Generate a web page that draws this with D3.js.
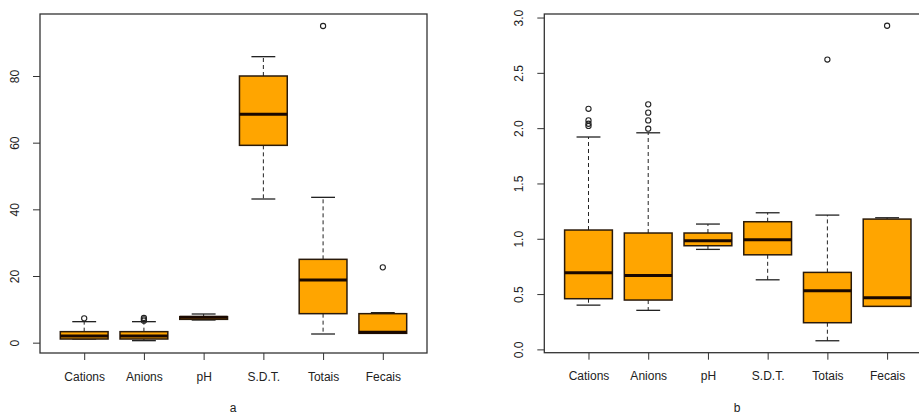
<!DOCTYPE html>
<html>
<head>
<meta charset="utf-8">
<script src="https://cdn.jsdelivr.net/npm/d3@7"></script>
<style>
  body { margin: 0; background: #fff; }
  svg text { font-family: "Liberation Sans", Arial, sans-serif; fill: #222; }
</style>
</head>
<body>
<svg id="chart" width="919" height="415"></svg>
<script>
var categories = ["Cations", "Anions", "pH", "S.D.T.", "Totais", "Fecais"];

// panel a
var aLow  = [1.1, 0.6, 6.8, 43.1, 2.6, 2.8];
var aQ1   = [1.1, 1.1, 7.0, 59.2, 8.7, 2.8];
var aMed  = [2.0, 2.0, 7.6, 68.5, 18.8, 3.1];
var aQ3   = [3.3, 3.3, 7.8, 80.0, 25.0, 8.7];
var aHigh = [6.3, 6.3, 8.6, 85.8, 43.6, 9.0];
var aOut  = [[7.3], [6.6, 7.0, 7.4], [], [], [95.0], [22.6]];
var aTicks = [0, 20, 40, 60, 80];

// panel b
var bLow  = [0.40, 0.353, 0.904, 0.629, 0.078, 0.389];
var bQ1   = [0.458, 0.446, 0.937, 0.855, 0.241, 0.389];
var bMed  = [0.693, 0.669, 0.982, 0.991, 0.53, 0.467];
var bQ3   = [1.079, 1.052, 1.052, 1.154, 0.696, 1.178];
var bHigh = [1.92, 1.958, 1.133, 1.235, 1.214, 1.19];
var bOut  = [[2.02, 2.04, 2.07, 2.175], [1.995, 2.07, 2.14, 2.215], [], [], [2.62], [2.926]];
var bTicks = [0, 0.5, 1, 1.5, 2, 2.5, 3];

var svg = d3.select("#chart");

function panel(opt){
  var g = svg.append("g");
  var x = d3.scalePoint().domain(categories).range([opt.left, opt.right]).padding(0.74);
  var y = d3.scaleLinear().domain(opt.domain).range([opt.bottom, opt.top]);
  var bw = x.step() * 0.8;

  var rows = categories.map(function(c, i){
    return {c: c, low: opt.low[i], q1: opt.q1[i], med: opt.med[i], q3: opt.q3[i], high: opt.high[i], out: opt.out[i]};
  });

  var b = g.selectAll(".bx").data(rows).enter().append("g");

  // whiskers
  b.append("line")
    .attr("x1", function(d){ return x(d.c); }).attr("x2", function(d){ return x(d.c); })
    .attr("y1", function(d){ return y(d.q3); }).attr("y2", function(d){ return y(d.high); })
    .attr("stroke", "#222").attr("stroke-dasharray", "4,3");
  b.append("line")
    .attr("x1", function(d){ return x(d.c); }).attr("x2", function(d){ return x(d.c); })
    .attr("y1", function(d){ return y(d.q1); }).attr("y2", function(d){ return y(d.low); })
    .attr("stroke", "#222").attr("stroke-dasharray", "4,3");
  // staples
  ["low", "high"].forEach(function(k){
    b.append("line")
      .attr("x1", function(d){ return x(d.c) - bw / 4; }).attr("x2", function(d){ return x(d.c) + bw / 4; })
      .attr("y1", function(d){ return y(d[k]); }).attr("y2", function(d){ return y(d[k]); })
      .attr("stroke", "#222").attr("stroke-width", 1.3);
  });
  // box
  b.append("rect")
    .attr("x", function(d){ return x(d.c) - bw / 2; })
    .attr("y", function(d){ return y(d.q3); })
    .attr("width", bw)
    .attr("height", function(d){ return Math.max(0, y(d.q1) - y(d.q3)); })
    .attr("fill", "#FFA500").attr("stroke", "#2a1a0a").attr("stroke-width", 1.5);
  // median
  b.append("line")
    .attr("x1", function(d){ return x(d.c) - bw / 2; }).attr("x2", function(d){ return x(d.c) + bw / 2; })
    .attr("y1", function(d){ return y(d.med); }).attr("y2", function(d){ return y(d.med); })
    .attr("stroke", "#1a0800").attr("stroke-width", 3);
  // outliers
  b.selectAll("circle")
    .data(function(d){ return d.out.map(function(v){ return {c: d.c, v: v}; }); })
    .enter().append("circle")
      .attr("cx", function(d){ return x(d.c); })
      .attr("cy", function(d){ return y(d.v); })
      .attr("r", 2.6)
      .attr("fill", "none").attr("stroke", "#222").attr("stroke-width", 1.1);

  // frame
  g.append("rect")
    .attr("x", opt.left).attr("y", opt.top)
    .attr("width", opt.right - opt.left).attr("height", opt.bottom - opt.top)
    .attr("fill", "none").attr("stroke", "#333").attr("stroke-width", 1.3);

  // y axis
  var ya = g.append("g")
    .attr("transform", "translate(" + opt.left + ",0)")
    .call(d3.axisLeft(y).tickValues(opt.ticks).tickSize(7).tickPadding(0)
      .tickFormat(opt.fmt));
  ya.select(".domain").remove();
  ya.selectAll("line").attr("stroke", "#333");
  ya.selectAll("text")
    .attr("x", 0).attr("dy", 0)
    .attr("transform", "translate(-21,0) rotate(-90)")
    .attr("text-anchor", "middle")
    .style("font-size", "12px").attr("fill", "#333");

  // x axis
  var xa = g.append("g")
    .attr("transform", "translate(0," + opt.bottom + ")")
    .call(d3.axisBottom(x).tickSize(7).tickPadding(12));
  xa.select(".domain").remove();
  xa.selectAll("line").attr("stroke", "#333");
  xa.selectAll("text").style("font-size", "12px").attr("fill", "#333");

  g.append("text")
    .attr("x", opt.labelX).attr("y", 412)
    .attr("text-anchor", "middle")
    .style("font-size", "12px")
    .text(opt.label);
}

panel({left: 40, right: 427, top: 14, bottom: 353, domain: [-3.1, 98.6],
  low: aLow, q1: aQ1, med: aMed, q3: aQ3, high: aHigh, out: aOut,
  ticks: aTicks, fmt: d3.format("d"), label: "a", labelX: 233});

panel({left: 544.3, right: 931.3, top: 14, bottom: 352.7, domain: [-0.03, 3.032],
  low: bLow, q1: bQ1, med: bMed, q3: bQ3, high: bHigh, out: bOut,
  ticks: bTicks, fmt: d3.format(".1f"), label: "b", labelX: 737});
</script>
</body>
</html>
